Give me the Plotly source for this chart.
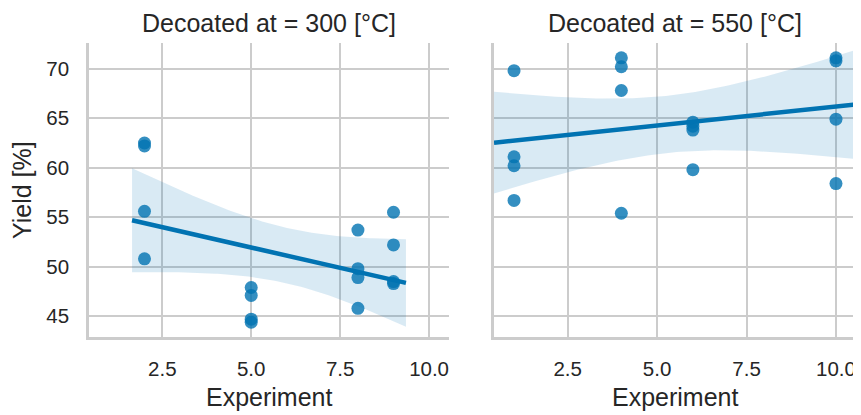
import numpy as np
import plotly.graph_objects as go
from plotly.subplots import make_subplots

# ---- data ----
panel_titles = ["Decoated at = 300 [°C]", "Decoated at = 550 [°C]"]
x_title = "Experiment"
y_title = "Yield [%]"

exp_300 = [2, 2, 2, 2, 5, 5, 5, 5, 8, 8, 8, 8, 9, 9, 9, 9]
yield_300 = [62.5, 62.2, 55.6, 50.8, 47.9, 47.1, 44.7, 44.4,
             53.7, 49.8, 48.9, 45.8, 55.5, 52.2, 48.5, 48.3]

exp_550 = [1, 1, 1, 1, 4, 4, 4, 4, 6, 6, 6, 6, 10, 10, 10, 10]
yield_550 = [69.8, 61.1, 60.2, 56.7, 71.1, 70.2, 67.8, 55.4,
             64.6, 64.2, 63.8, 59.8, 71.1, 70.8, 64.9, 58.4]

fit_span_300 = [1.65, 9.35]
fit_span_550 = [0.44, 10.56]

x_ticks = [2.5, 5.0, 7.5, 10.0]
x_ticklabels = ["2.5", "5.0", "7.5", "10.0"]
y_ticks = [45, 50, 55, 60, 65, 70]

BLUE = "#0173b2"
GRID = "#cccccc"
TEXT = "#262626"
FONT = "Liberation Sans, Arial, sans-serif"


def fit_with_ci(x, y, span, n=100):
    x = np.asarray(x, float)
    y = np.asarray(y, float)
    slope, intercept = np.polyfit(x, y, 1)
    xg = np.linspace(span[0], span[1], n)
    yg = intercept + slope * xg
    resid = y - (intercept + slope * x)
    dof = len(x) - 2
    s = np.sqrt(np.sum(resid ** 2) / dof)
    sxx = np.sum((x - x.mean()) ** 2)
    se = s * np.sqrt(1.0 / len(x) + (xg - x.mean()) ** 2 / sxx)
    tcrit = 2.145  # t(0.975, df=14)
    return xg, yg, yg - tcrit * se, yg + tcrit * se


fig = make_subplots(rows=1, cols=2, shared_yaxes=True, horizontal_spacing=0.0)

for col, (xs, ys, span) in enumerate(
        [(exp_300, yield_300, fit_span_300), (exp_550, yield_550, fit_span_550)], start=1):
    xg, yg, lo, hi = fit_with_ci(xs, ys, span)
    fig.add_trace(go.Scatter(x=np.concatenate([xg, xg[::-1]]),
                             y=np.concatenate([hi, lo[::-1]]),
                             fill="toself", fillcolor="rgba(1,115,178,0.15)",
                             line=dict(width=0), mode="lines", hoverinfo="skip",
                             showlegend=False), row=1, col=col)
    fig.add_trace(go.Scatter(x=xs, y=ys, mode="markers",
                             marker=dict(size=13, color=BLUE, opacity=0.8,
                                         line=dict(width=0)),
                             showlegend=False), row=1, col=col)
    fig.add_trace(go.Scatter(x=xg, y=yg, mode="lines",
                             line=dict(color=BLUE, width=4.5),
                             showlegend=False), row=1, col=col)

# page body has an 8px margin, so the figure is drawn 8px smaller and offset
W, H = 853, 407
ml, mr, mt, mb = 81, 5, 35, 78
pw = W - ml - mr
left_dom = [0, 360 / pw]
right_dom = [(494 - 8 - ml) / pw, 1.0]

axis_common = dict(showgrid=True, gridcolor=GRID, gridwidth=2,
                   showline=True, linecolor=GRID, linewidth=2.5,
                   zeroline=False, ticks="", automargin=False,
                   tickfont=dict(family=FONT, size=20.5, color=TEXT))

fig.update_layout(
    width=W, height=H,
    margin=dict(l=ml, r=mr, t=mt, b=mb, autoexpand=False),
    plot_bgcolor="white", paper_bgcolor="white",
    font=dict(family=FONT, color=TEXT),
    xaxis=dict(domain=left_dom, range=[0.44, 10.56], tickvals=x_ticks,
               ticktext=x_ticklabels, ticklabelstandoff=12, **axis_common),
    xaxis2=dict(domain=right_dom, range=[0.44, 10.56], tickvals=x_ticks,
                ticktext=x_ticklabels, ticklabelstandoff=12, **axis_common),
    yaxis=dict(range=[42.9, 72.6], tickvals=y_ticks, ticklabelstandoff=13,
               **axis_common),
    yaxis2=dict(range=[42.9, 72.6], tickvals=y_ticks, showticklabels=False,
                **axis_common),
)

title_font = dict(family=FONT, size=25, color=TEXT)
centers = [(left_dom[0] + left_dom[1]) / 2, (right_dom[0] + right_dom[1]) / 2]
for c, t in zip(centers, panel_titles):
    fig.add_annotation(text=t, x=c, y=1, xref="paper", yref="paper",
                       xanchor="center", yanchor="bottom", yshift=4, showarrow=False,
                       font=title_font)
    fig.add_annotation(text=x_title, x=c, y=0, xref="paper", yref="paper",
                       xanchor="center", yanchor="middle", yshift=-60, showarrow=False,
                       font=title_font)

fig.add_annotation(text=y_title, x=0, y=0.5, xref="paper", yref="paper",
                   xanchor="center", yanchor="middle", xshift=-67, textangle=-90,
                   showarrow=False, font=title_font)

fig.write_html("out.html")
